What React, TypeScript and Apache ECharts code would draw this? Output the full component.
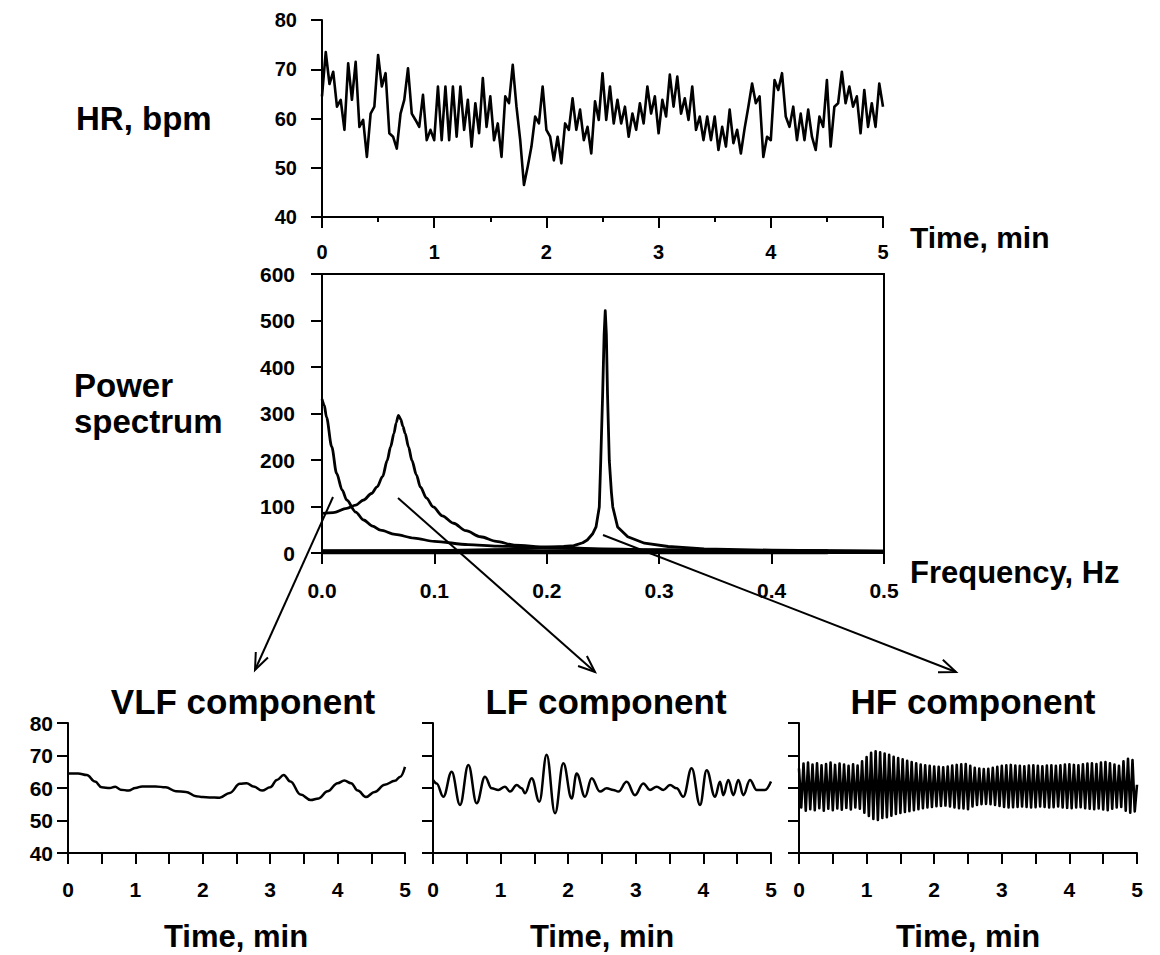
import React, { useEffect, useRef } from 'react';
import * as echarts from 'echarts';

const FONT = '"Liberation Sans", Arial, Helvetica, sans-serif';
const INK = '#000';

// ---------- DATA ----------
// Heart rate (bpm), sampled every 2 s (1/30 min) over 5 min
const HR_STEP_MIN = 1 / 30;
const HR_VALUES = [
  64.5, 73.5, 67, 69.5, 62.4, 63.8, 57.7, 71.2, 63.8, 71.5,
  58.3, 59.7, 52.2, 61, 62.4, 72.9, 66.5, 69.2, 57, 56.3,
  53.9, 61, 63.8, 70.2, 61, 59.7, 58.3, 64.8, 55.6, 57.7,
  55.6, 66.5, 55.6, 66.5, 55.6, 66.5, 56.3, 66.5, 57.7, 63.8,
  54.3, 63.1, 57, 68.2, 58.3, 64.5, 55.6, 59, 52.2, 64.5,
  63.1, 70.9, 62.4, 55.6, 46.5, 50.2, 54.3, 60.4, 59, 66.5,
  57.7, 56.3, 51.5, 56.3, 50.9, 59, 57.7, 64.1, 57.7, 61.8,
  55.6, 58.3, 52.9, 63.5, 59.7, 69.2, 59.7, 66.5, 59, 63.8,
  59, 62.4, 56.3, 61, 57.7, 63.1, 59, 66.5, 61, 64.5,
  57, 63.8, 60.4, 68.9, 62.4, 68.5, 61, 64.1, 59.7, 66.5,
  57.7, 60.4, 55.6, 60.4, 55.6, 60.4, 53.6, 58.3, 54.3, 61.8,
  55, 57.7, 52.9, 58, 62.4, 67.1, 63.1, 64.5, 52.2, 56.3,
  55.6, 67.8, 65.8, 69.2, 60.4, 58.3, 62.4, 55.6, 61, 55.6,
  61.8, 56.3, 53.6, 60.4, 58.3, 67.8, 54.3, 62.4, 63.1, 69.5,
  63.1, 66.5, 62.4, 64.5, 57, 65.8, 58.3, 63.1, 58.3, 67.1,
  62.4,
];

// Power spectrum components: [frequency Hz, power]
const VLF_SPECTRUM = [
  [0, 331], [0.002, 318], [0.004, 292], [0.0087, 228], [0.013, 171], [0.018, 135],
  [0.022, 114], [0.03, 88], [0.037, 71], [0.045, 58], [0.052, 49], [0.065, 40],
  [0.082, 32], [0.1, 25], [0.13, 18], [0.156, 15], [0.2, 11], [0.25, 8], [0.3, 6],
  [0.4, 4], [0.5, 3],
];
const LF_SPECTRUM = [
  [0, 85], [0.01, 87], [0.022, 96], [0.03, 103], [0.037, 114], [0.044, 128],
  [0.049, 142], [0.054, 165], [0.058, 199], [0.061, 228], [0.064, 257], [0.066, 280],
  [0.068, 296], [0.07, 288], [0.072, 272], [0.074, 257], [0.077, 228], [0.08, 199],
  [0.084, 168], [0.0875, 142], [0.093, 118], [0.099, 99], [0.107, 80], [0.117, 64],
  [0.128, 48], [0.141, 35], [0.155, 25], [0.171, 17], [0.2, 13], [0.25, 9],
  [0.3, 7], [0.4, 5], [0.5, 4],
];
const HF_SPECTRUM = [
  [0, 4], [0.1, 5], [0.15, 7], [0.17, 8], [0.2, 12], [0.215, 14], [0.224, 16],
  [0.232, 22], [0.236, 28], [0.241, 42], [0.2438, 56], [0.2467, 99], [0.248, 199],
  [0.2497, 343], [0.251, 470], [0.252, 521], [0.253, 470], [0.254, 343],
  [0.2556, 199], [0.2575, 130], [0.2587, 99], [0.263, 56], [0.272, 35],
  [0.287, 21], [0.308, 14], [0.34, 9], [0.4, 6], [0.5, 4],
];
const SPECTRUM_FLOOR = [[0, 2.5], [0.45, 2.5]];

// Decomposed components: [time min, bpm]
const VLF_COMPONENT = [
  [0, 64.5], [0.15, 64.5], [0.28, 64], [0.4, 62], [0.5, 60.2], [0.62, 60], [0.7, 60.4],
  [0.78, 59.5], [0.9, 59.2], [1.0, 60.0], [1.1, 60.5], [1.3, 60.5], [1.45, 60.2],
  [1.6, 59], [1.75, 58.8], [1.9, 57.5], [2.0, 57.2], [2.1, 57.1], [2.25, 57.0],
  [2.4, 58.5], [2.55, 61.3], [2.65, 61.5], [2.75, 60.5], [2.88, 59.2], [3.0, 60.2],
  [3.1, 62.5], [3.2, 64], [3.3, 62], [3.45, 58], [3.6, 56.3], [3.72, 56.8],
  [3.85, 59], [4.0, 61.5], [4.1, 62.3], [4.2, 61.5], [4.3, 59.2], [4.42, 57.2],
  [4.55, 58.8], [4.7, 61], [4.85, 62.2], [4.93, 63.5], [5.0, 66.5],
];
const LF_COMPONENT = [
  [0, 62.5], [0.054, 61.4], [0.153, 57.3], [0.276, 65.0], [0.4, 54.8], [0.523, 67.1],
  [0.646, 55.3], [0.769, 63.5], [0.868, 59.9], [0.966, 59.4], [1.065, 60.4],
  [1.139, 58.9], [1.238, 60.9], [1.312, 59.9], [1.361, 58.4], [1.46, 63],
  [1.573, 55.8], [1.681, 70.2], [1.805, 52.2], [1.928, 67.6], [2.051, 56.8],
  [2.125, 64.5], [2.249, 57.3], [2.347, 63], [2.47, 58.9], [2.569, 59.9],
  [2.668, 59.4], [2.742, 58.9], [2.865, 61.9], [2.988, 57.8], [3.111, 61.4],
  [3.21, 59.4], [3.309, 60.4], [3.407, 59.4], [3.506, 60.9], [3.605, 59.9],
  [3.703, 57.3], [3.826, 66.1], [3.95, 54.8], [4.048, 65.5], [4.172, 57.3],
  [4.246, 61.9], [4.295, 57.8], [4.369, 62.5], [4.443, 57.8], [4.517, 62.5],
  [4.591, 57.8], [4.689, 62.5], [4.788, 59.4], [4.911, 59.4], [5.0, 62],
];
// HF component sampled every 2 s
const HF_STEP_MIN = 1 / 30;
const HF_VALUES = [
  66.0, 54.0, 67.5, 53.0, 67.8, 53.5, 67.2, 53.2, 67.6, 53.8,
  67.0, 53.0, 67.4, 53.6, 67.8, 53.2, 67.1, 53.7, 67.5, 53.3,
  67.2, 53.9, 66.8, 53.4, 67.3, 54.0, 66.9, 53.6, 68.2, 52.4,
  69.5, 51.4, 70.8, 50.5, 71.3, 50.2, 71.0, 50.8, 70.6, 51.0,
  70.2, 51.5, 69.6, 52.0, 69.2, 52.3, 68.8, 52.6, 68.4, 52.9,
  68.0, 53.2, 67.6, 53.5, 67.2, 53.8, 67.0, 54.0, 66.8, 54.2,
  66.6, 54.4, 66.5, 54.5, 66.4, 54.6, 66.6, 54.3, 66.9, 54.0,
  67.1, 53.8, 67.3, 53.7, 67.4, 53.5, 66.8, 54.3, 66.2, 54.8,
  66.0, 55.0, 65.8, 55.1, 65.9, 55.0, 66.2, 54.8, 66.5, 54.5,
  66.8, 54.2, 67.0, 54.0, 67.1, 54.1, 66.9, 54.2, 66.8, 54.3,
  66.7, 54.2, 66.9, 54.0, 67.0, 54.1, 66.8, 54.3, 66.7, 54.2,
  66.9, 54.0, 67.0, 54.1, 66.8, 54.3, 67.0, 54.0, 67.2, 53.9,
  67.3, 53.8, 67.1, 54.0, 67.0, 54.1, 67.3, 53.8, 67.5, 53.6,
  67.6, 53.5, 67.4, 53.7, 67.8, 53.4, 68.0, 53.2, 67.6, 53.6,
  67.2, 54.0, 66.8, 54.2, 68.2, 53.0, 69.0, 52.4, 68.6, 52.8,
  61.0,
];

const TIME_LABEL = 'Time, min';
const FREQ_LABEL = 'Frequency, Hz';
const PANEL_TITLES = ['VLF component', 'LF component', 'HF component'];

// ---------- helpers ----------
const labelStyle = (size: number, margin: number, show = true, formatter?: any) => ({
  show,
  fontSize: size,
  fontWeight: 'bold',
  fontFamily: FONT,
  color: INK,
  margin,
  formatter,
});
const axisLine = { show: true, onZero: false, lineStyle: { color: INK, width: 2 } };
const tick = (length: number) => ({ show: true, length, lineStyle: { color: INK, width: 2 } });

function timeX(gridIndex: number, minorLen: number, labelSize: number, margin: number) {
  return {
    type: 'value', gridIndex, min: 0, max: 5, interval: 1,
    axisLine, axisTick: tick(11),
    minorTick: { show: true, splitNumber: 2, length: minorLen, lineStyle: { color: INK, width: 2 } },
    splitLine: { show: false }, minorSplitLine: { show: false },
    axisLabel: labelStyle(labelSize, margin),
  };
}
function bpmY(gridIndex: number, showLabels: boolean, labelSize: number, margin: number) {
  return {
    type: 'value', gridIndex, min: 40, max: 80, interval: 10,
    axisLine, axisTick: tick(11), splitLine: { show: false },
    axisLabel: labelStyle(labelSize, margin, showLabels),
  };
}
function text(x: number, y: number, str: string, size: number, align = 'left') {
  return {
    type: 'text', x, y, silent: true,
    style: { text: str, fontSize: size, fontWeight: 'bold', fontFamily: FONT, fill: INK, align, verticalAlign: 'middle' },
  };
}
function arrow(x1: number, y1: number, x2: number, y2: number) {
  const ang = Math.atan2(y2 - y1, x2 - x1);
  const L = 18, a = 0.38;
  const p1 = [x2 - L * Math.cos(ang - a), y2 - L * Math.sin(ang - a)];
  const p2 = [x2 - L * Math.cos(ang + a), y2 - L * Math.sin(ang + a)];
  return [
    { type: 'line', silent: true, shape: { x1, y1, x2, y2 }, style: { stroke: INK, lineWidth: 2 } },
    { type: 'polyline', silent: true, shape: { points: [p1, [x2, y2], p2] }, style: { stroke: INK, lineWidth: 2, fill: null } },
  ];
}

const lineSeries = (name: string, xi: number, yi: number, data: any[], width: number, smooth: any = false) => ({
  name, type: 'line', xAxisIndex: xi, yAxisIndex: yi, data, showSymbol: false, symbol: 'none',
  smooth, smoothMonotone: smooth ? 'x' : undefined, silent: true,
  lineStyle: { color: INK, width, join: 'round' }, itemStyle: { color: INK },
});

export default function App() {
  const ref = useRef<HTMLDivElement>(null);
  useEffect(() => {
    if (!ref.current) return;
    const chart = echarts.init(ref.current, undefined, { renderer: 'svg' });
    const hr = HR_VALUES.map((v, i) => [i * HR_STEP_MIN, v]);
    const hf = HF_VALUES.map((v, i) => [i * HF_STEP_MIN, v]);

    const option: any = {
      animation: false,
      backgroundColor: '#fff',
      grid: [
        { left: 322, top: 20, width: 561, height: 197 },
        { left: 322, top: 274, width: 562, height: 279 },
        { left: 68, top: 723, width: 337, height: 130 },
        { left: 433, top: 723, width: 338, height: 130 },
        { left: 799, top: 723, width: 338, height: 130 },
      ],
      xAxis: [
        timeX(0, 5, 20, 25),
        {
          type: 'value', gridIndex: 1, min: 0, max: 0.5, interval: 0.1,
          axisLine, axisTick: tick(11), splitLine: { show: false },
          axisLabel: labelStyle(21, 27, true, (v: number) => v.toFixed(1)),
        },
        {
          type: 'value', gridIndex: 1, min: 0, max: 0.5, position: 'top',
          axisLine, axisTick: { show: false }, axisLabel: { show: false }, splitLine: { show: false },
        },
        timeX(2, 11, 21, 26),
        timeX(3, 11, 21, 26),
        timeX(4, 11, 21, 26),
      ],
      yAxis: [
        bpmY(0, true, 20, 25),
        {
          type: 'value', gridIndex: 1, min: 0, max: 600, interval: 100,
          axisLine, axisTick: tick(11), splitLine: { show: false },
          axisLabel: labelStyle(21, 27),
        },
        {
          type: 'value', gridIndex: 1, min: 0, max: 600, position: 'right',
          axisLine, axisTick: { show: false }, axisLabel: { show: false }, splitLine: { show: false },
        },
        bpmY(2, true, 21, 15),
        bpmY(3, false, 21, 15),
        bpmY(4, false, 21, 15),
      ],
      series: [
        lineSeries('HR', 0, 0, hr, 2.6),
        lineSeries('VLF spectrum', 1, 1, VLF_SPECTRUM, 2.8, 0.3),
        lineSeries('LF spectrum', 1, 1, LF_SPECTRUM, 2.8, 0.3),
        lineSeries('HF spectrum', 1, 1, HF_SPECTRUM, 2.8),
        lineSeries('floor', 1, 1, SPECTRUM_FLOOR, 5),
        lineSeries('VLF component', 3, 3, VLF_COMPONENT, 2.5, 0.4),
        lineSeries('LF component', 4, 4, LF_COMPONENT, 2.5, 0.4),
        lineSeries('HF component', 5, 5, hf, 2.6),
      ],
      graphic: [
        text(76, 118.5, 'HR, bpm', 33),
        text(74, 385.5, 'Power', 33),
        text(74, 421.5, 'spectrum', 33),
        text(910, 237.5, TIME_LABEL, 30),
        text(910, 572, FREQ_LABEL, 31),
        text(243, 701, PANEL_TITLES[0], 35, 'center'),
        text(606, 701, PANEL_TITLES[1], 35, 'center'),
        text(973, 701, PANEL_TITLES[2], 35, 'center'),
        text(236, 936, TIME_LABEL, 31, 'center'),
        text(602, 936, TIME_LABEL, 31, 'center'),
        text(968, 936, TIME_LABEL, 31, 'center'),
        ...arrow(333, 497, 255, 670),
        ...arrow(398, 498, 595, 672),
        ...arrow(603, 535, 956, 672),
      ],
    };
    chart.setOption(option);
    return () => chart.dispose();
  }, []);
  return (
    <div
      ref={ref}
      style={{ position: 'absolute', left: 0, top: 0, width: 1160, height: 955, background: '#fff' }}
    />
  );
}
